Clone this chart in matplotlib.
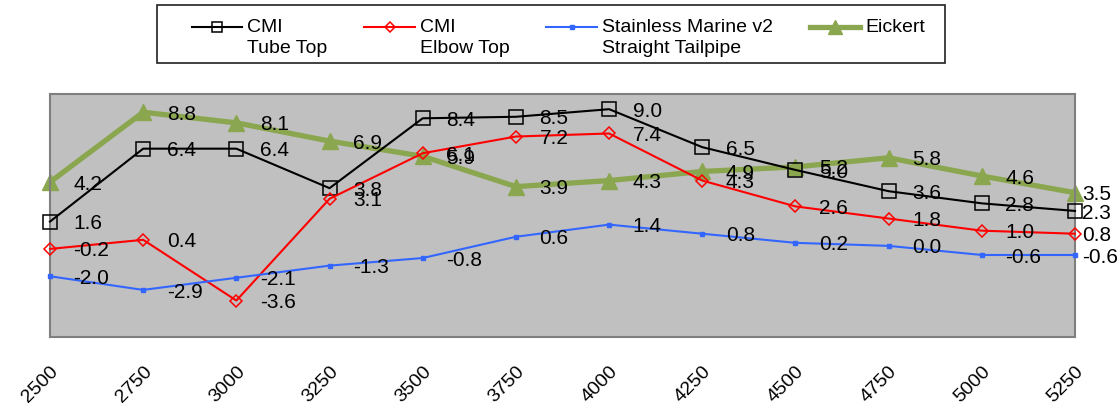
import matplotlib
matplotlib.use('Agg')

import matplotlib.pyplot as plt
import numpy as np
from matplotlib.legend_handler import HandlerLine2D
from matplotlib.patches import Rectangle

plt.rcParams['font.family'] = ['Liberation Sans', 'DejaVu Sans']

rpm = [2500, 2750, 3000, 3250, 3500, 3750, 4000, 4250, 4500, 4750, 5000, 5250]

tube_top = [1.6, 6.4, 6.4, 3.8, 8.4, 8.5, 9.0, 6.5, 5.0, 3.6, 2.8, 2.3]
elbow_top = [-0.2, 0.4, -3.6, 3.1, 6.1, 7.2, 7.4, 4.3, 2.6, 1.8, 1.0, 0.8]
stainless = [-2.0, -2.9, -2.1, -1.3, -0.8, 0.6, 1.4, 0.8, 0.2, 0.0, -0.6, -0.6]
eickert = [4.2, 8.8, 8.1, 6.9, 5.9, 3.9, 4.3, 4.9, 5.2, 5.8, 4.6, 3.5]

# Eickert gets an empty second line so all four entries line up on the top row
labels = ['CMI\nTube Top', 'CMI\nElbow Top', 'Stainless Marine v2\nStraight Tailpipe', 'Eickert\n ']

LEG_FS = 14
LEG_LS = 1.3


class TopLine(HandlerLine2D):
    # put the handle level with the first line of a two-line label
    def create_artists(self, legend, orig_handle, xdescent, ydescent, width, height, fontsize, trans):
        arts = super().create_artists(legend, orig_handle, xdescent, ydescent, width, height, fontsize, trans)
        for a in arts:
            a.set_ydata(np.asarray(a.get_ydata(), dtype=float) + 0.54 * fontsize)
        return arts


fig = plt.figure(figsize=(11.18, 4.11), dpi=100)
ax = fig.add_axes([50 / 1118, 1 - 337 / 411, (1075 - 50) / 1118, (337 - 94) / 411])
ax.set_facecolor('#c0c0c0')

l1, = ax.plot(rpm, tube_top, color='black', lw=1.5, marker='s', ms=9.5,
              mfc='none', mec='black', mew=1.1, clip_on=False, zorder=3)
l2, = ax.plot(rpm, elbow_top, color='red', lw=1.5, marker='D', ms=6.5,
              mfc='none', mec='red', mew=1.1, clip_on=False, zorder=3)
l3, = ax.plot(rpm, stainless, color='#3366ff', lw=1.5, marker='s', ms=3,
              mfc='#3366ff', mec='#3366ff', clip_on=False, zorder=3)
l4, = ax.plot(rpm, eickert, color='#8aa64e', lw=3.8, marker='^', ms=12,
              mfc='#8aa64e', mec='#8aa64e', clip_on=False, zorder=2)

for series in [tube_top, elbow_top, stainless, eickert]:
    for i, (xv, yv) in enumerate(zip(rpm, series)):
        dx = 5 if i == len(rpm) - 1 else 17
        ax.annotate('%.1f' % yv, (xv, yv), xytext=(dx, -1.5), textcoords='offset points',
                    ha='left', va='center', fontsize=15, color='black',
                    annotation_clip=False, zorder=5)

ax.set_xlim(2500, 5250)
ax.set_ylim(-6, 10)
ax.set_yticks([])
ax.set_xticks(rpm)
ax.set_xticklabels([str(r) for r in rpm], rotation=45, ha='right', va='top',
                   fontsize=14, rotation_mode='anchor')
ax.tick_params(axis='x', length=0, pad=19)
for s in ax.spines.values():
    s.set_color('#7f7f7f')
    s.set_linewidth(1.5)

hmap = {l1: TopLine(), l2: TopLine(), l3: TopLine(), l4: TopLine()}
leg = fig.legend([l1, l2, l3, l4], labels, ncol=4, loc='upper left',
                 bbox_to_anchor=(182 / 1118, 1 - 9 / 411), fontsize=LEG_FS,
                 frameon=False, handlelength=2.6, handletextpad=0.25,
                 columnspacing=1.9, borderpad=0, markerscale=0.8,
                 handler_map=hmap)
for t in leg.get_texts():
    t.set_linespacing(LEG_LS)

fig.patches.append(Rectangle((157 / 1118, 1 - 63 / 411), (945 - 157) / 1118, 58 / 411,
                             transform=fig.transFigure, fill=False,
                             edgecolor='#202020', lw=1.2))

plt.savefig('out.png', dpi=100)
